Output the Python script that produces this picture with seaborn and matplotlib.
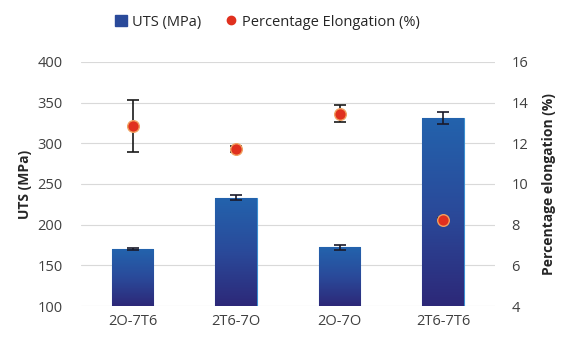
import numpy as np
import pandas as pd
import seaborn as sns
import matplotlib.pyplot as plt
from matplotlib.patches import Patch
from matplotlib.lines import Line2D

conditions = ['2O-7T6', '2T6-7O', '2O-7O', '2T6-7T6']
uts = [170, 233, 172, 331]
uts_err = [1, 3, 3, 7]
elong = [12.85, 11.7, 13.45, 8.25]
elong_err = [1.3, 0.15, 0.42, 0.08]

df = pd.DataFrame({'cond': conditions, 'uts': uts, 'uts_err': uts_err,
                   'elong': elong, 'elong_err': elong_err})

sns.set_style('white')
plt.rcParams['font.family'] = ['Open Sans', 'DejaVu Sans']

fig = plt.figure(figsize=(5.61, 3.42), dpi=100)
ax = fig.add_axes([0.144, 0.105, 0.738, 0.714])

sns.barplot(x='cond', y='uts', data=df, color='#2a4f9e', width=0.4, ax=ax,
            errorbar=None)

# vertical gradient on each bar
grad = np.linspace(0, 1, 256).reshape(-1, 1)
cmap = sns.blend_palette(['#2d2878', '#2a4a9a', '#2363ad'], as_cmap=True)
for p in ax.patches:
    x0, w = p.get_x(), p.get_width()
    top = p.get_height()
    im = ax.imshow(grad, extent=[x0, x0 + w, 100, top], origin='lower',
                   aspect='auto', cmap=cmap, zorder=2)
    im.set_clip_path(p)
    p.set_edgecolor('#3b8fd0')
    p.set_linewidth(0.8)
ax.set_xlim(-0.5, 3.5)
ax.set_ylim(100, 400)

ax.errorbar(np.arange(4), df['uts'], yerr=df['uts_err'], fmt='none',
            ecolor='#1a1a2a', elinewidth=1.2, capsize=4, capthick=1.2, zorder=3)

ax.set_yticks(range(100, 401, 50))
ax.yaxis.grid(True, color='#d9d9d9', linewidth=0.8)
ax.set_axisbelow(True)
for s in ax.spines.values():
    s.set_visible(False)
ax.set_xlabel('')
ax.set_ylabel('UTS (MPa)', fontsize=10, fontweight='bold', color='#262626',
              labelpad=4)
ax.tick_params(axis='y', labelsize=10.5, colors='#404040', length=0, pad=13)
ax.tick_params(axis='x', labelsize=10.5, colors='#404040', length=0, pad=6)

ax2 = ax.twinx()
ax2.errorbar(np.arange(4), df['elong'], yerr=df['elong_err'], fmt='none',
             ecolor='#1a1a1a', elinewidth=1.2, capsize=4, capthick=1.2, zorder=3)
sns.scatterplot(x=np.arange(4), y=df['elong'], ax=ax2, s=70, color='#e0301e',
                edgecolor='#f0a060', linewidth=1, zorder=4)
ax2.set_ylim(4, 16)
ax2.set_yticks(range(4, 17, 2))
ax2.set_xlim(-0.5, 3.5)
for s in ax2.spines.values():
    s.set_visible(False)
ax2.set_ylabel('Percentage elongation (%)', fontsize=10, fontweight='bold',
               color='#262626', labelpad=10)
ax2.tick_params(axis='y', labelsize=10.5, colors='#404040', length=0, pad=12)

handles = [Patch(facecolor='#2a4a9a', edgecolor='#2a4a9a', label='UTS (MPa)'),
           Line2D([], [], marker='o', linestyle='none', markersize=6,
                  markerfacecolor='#e0301e', markeredgecolor='#e0301e',
                  label='Percentage Elongation (%)')]
fig.legend(handles=handles, loc='center', bbox_to_anchor=(0.477, 0.935), ncol=2,
           frameon=False, fontsize=10.5, handlelength=0.8, handleheight=0.8,
           handletextpad=0.4, columnspacing=1.6, labelcolor='#262626')

fig.savefig('out.png', dpi=100)
